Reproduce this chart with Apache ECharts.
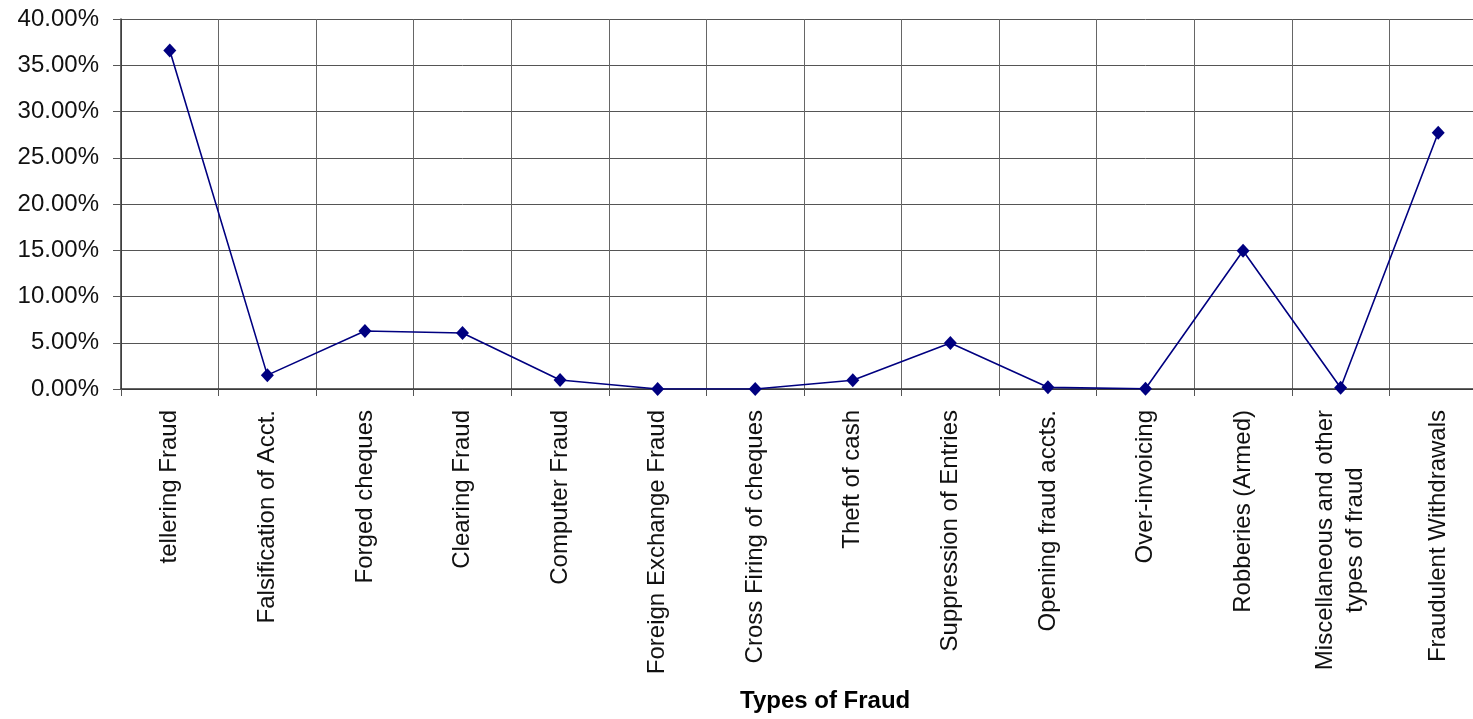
<!DOCTYPE html>
<html>
<head>
<meta charset="utf-8">
<title>Types of Fraud</title>
<script src="https://cdn.jsdelivr.net/npm/echarts@6/dist/echarts.min.js"></script>
<style>
  html, body { margin: 0; padding: 0; background: #fff; overflow: hidden; }
  /* the plot runs a little past the right edge of the window */
  #chart { width: 1490px; height: 719px; }
</style>
</head>
<body>
<div id="chart"></div>
<script>
// Fraud categories (share of cases, in percent)
const categories = [
  'tellering Fraud',
  'Falsification of Acct.',
  'Forged cheques',
  'Clearing Fraud',
  'Computer Fraud',
  'Foreign Exchange Fraud',
  'Cross Firing of cheques',
  'Theft of cash',
  'Suppression of Entries',
  'Opening fraud accts.',
  'Over-invoicing',
  'Robberies (Armed)',
  'Miscellaneous and other\ntypes of fraud',
  'Fraudulent Withdrawals'
];
const shares = [36.6, 1.5, 6.27, 6.05, 0.97, 0, 0, 0.94, 4.97, 0.18, 0.03, 14.95, 0.14, 27.7];

const yMin = 0, yMax = 40, yStep = 5;
const axisTitle = 'Types of Fraud';

const FONT = '"Liberation Sans", Arial, sans-serif';
const chart = echarts.init(document.getElementById('chart'), null, { renderer: 'canvas' });

chart.setOption({
  animation: false,
  backgroundColor: '#ffffff',
  grid: { left: 121, right: 3, top: 19, height: 370, containLabel: false },
  xAxis: {
    type: 'category',
    data: categories,
    boundaryGap: true,
    axisLine: { show: true, lineStyle: { color: '#333', width: 1.5 } },
    axisTick: { show: true, length: 7, alignWithLabel: false, lineStyle: { color: '#555' } },
    splitLine: { show: true, lineStyle: { color: '#666', width: 1 } },
    axisLabel: {
      interval: 0,
      rotate: 90,
      margin: 21,
      color: '#111',
      fontFamily: FONT,
      fontSize: 24,
      formatter: function (v) {
        if (v.indexOf('\n') < 0) return v;
        return v.split('\n').map(function (s) { return '{c|' + s + '}'; }).join('\n');
      },
      rich: {
        c: { align: 'center', fontFamily: FONT, fontSize: 24, lineHeight: 30, color: '#111' }
      }
    }
  },
  yAxis: {
    type: 'value',
    min: yMin,
    max: yMax,
    interval: yStep,
    axisLine: { show: true, lineStyle: { color: '#333', width: 1.5 } },
    axisTick: { show: true, length: 8, lineStyle: { color: '#555' } },
    splitLine: { show: true, lineStyle: { color: '#555', width: 1 } },
    axisLabel: {
      margin: 22,
      color: '#111',
      fontFamily: FONT,
      fontSize: 24,
      formatter: function (v) { return v.toFixed(2) + '%'; }
    }
  },
  graphic: [{
    type: 'text',
    left: 740,
    top: 689,
    style: {
      text: axisTitle,
      font: 'bold 24px ' + FONT,
      fill: '#000'
    }
  }],
  series: [{
    type: 'line',
    data: shares,
    symbol: 'diamond',
    symbolSize: [13, 14],
    showAllSymbol: true,
    lineStyle: { color: '#000080', width: 1.6 },
    itemStyle: { color: '#000080' },
    z: 5
  }]
});
</script>
</body>
</html>
